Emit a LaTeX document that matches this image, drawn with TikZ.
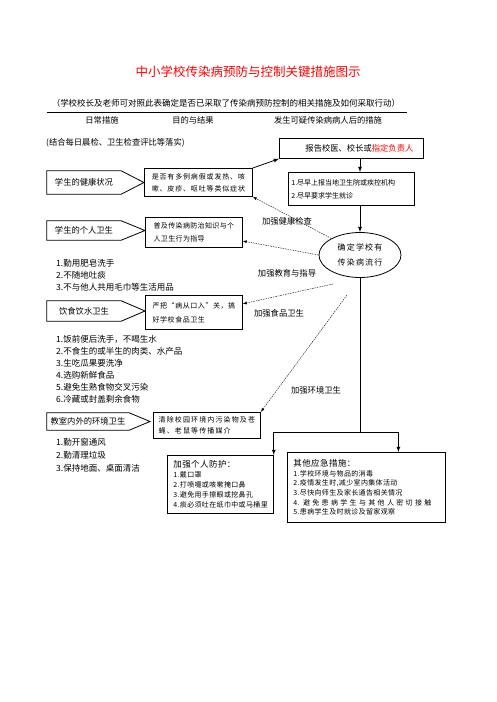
\documentclass[tikz,border=0pt]{standalone}
\usepackage{fontspec}
\setmainfont{Noto Sans CJK SC}
\usepackage{tikz}
\usetikzlibrary{calc,shapes.geometric}
\newcommand{\ecart}[1]{\addfontfeature{LetterSpace=#1}}
\tikzstyle{cadre} = [rectangle, draw=black, line width=0.8pt, inner sep=3pt, align=left, font=\fontsize{7}{13}\selectfont]
\tikzstyle{fleche} = [rectangle, minimum width=74pt, minimum height=23pt, inner sep=0pt, font=\fontsize{8.3}{10}\selectfont]
\tikzstyle{texte} = [inner sep=0pt, font=\fontsize{8.3}{10}\selectfont]
\tikzstyle{liste} = [anchor=west, inner sep=0pt, font=\fontsize{8.5}{10}\selectfont]
\tikzstyle{pointille} = [->, dash pattern=on 1.5pt off 1pt, line width=0.4pt]

\begin{document}
\begin{tikzpicture}[x=1pt, y=-1pt, >=latex]

        \useasboundingbox (0,0) rectangle (496,702);

        % titre et en-tete
        \node (titre) [text=red, font=\fontsize{12.5}{15}\selectfont] at (248,72) {中小学校传染病预防与控制关键措施图示};
        \node (soustitre) [texte, font=\fontsize{8.5}{10}\selectfont] at (226,103) {（学校校长及老师可对照此表确定是否已采取了传染病预防控制的相关措施及如何采取行动）};
        \draw[line width=0.8pt] (47,112) -- (407,112);
        \node (col1) [texte] at (102,120) {日常措施};
        \node (col2) [texte] at (193,120) {目的与结果};
        \node (col3) [texte] at (328,120) {发生可疑传染病病人后的措施};
        \node (note) [texte, anchor=west] at (46,143) {(结合每日晨检、卫生检查评比等落实)};

        % sante
        \node (sante) [fleche] at (84,182.5) {学生的健康状况};
        \node (symptomes) [cadre, anchor=north west, minimum width=108pt, minimum height=28pt, font=\fontsize{7}{12}\selectfont\ecart{12}] at (144,168) {是否有多例病假或发热、咳\\嗽、皮疹、呕吐等类似症状};
        \draw[line width=0.8pt] (sante.north west) -- (sante.north east) -- (symptomes.west |- sante.east) -- (sante.south east) -- (sante.south west) -- cycle;

        % hygiene personnelle
        \node (hygiene) [fleche, minimum height=19pt] at (84,230.5) {学生的个人卫生};
        \node (conseil) [cadre, anchor=north west, minimum width=97pt, minimum height=30pt, font=\fontsize{7}{13}\selectfont\ecart{5}] at (145,217) {普及传染病防治知识与个\\人卫生行为指导};
        \draw[line width=0.8pt] (hygiene.north west) -- (hygiene.north east) -- (conseil.west |- hygiene.east) -- (hygiene.south east) -- (hygiene.south west) -- cycle;
        \node (h1) [liste] at (56,263) {1.勤用肥皂洗手};
        \node (h2) [liste] at (56,275) {2.不随地吐痰};
        \node (h3) [liste] at (56,287) {3.不与他人共用毛巾等生活用品};

        % alimentation
        \node (repas) [fleche, minimum height=20pt] at (84,311) {饮食饮水卫生};
        \node (aliment) [cadre, anchor=north west, minimum width=97pt, minimum height=34pt, font=\fontsize{7}{14}\selectfont\ecart{8}] at (145,295) {严把“病从口入”关，搞\\好学校食品卫生};
        \draw[line width=0.8pt] (repas.north west) -- (repas.north east) -- (aliment.west |- repas.east) -- (repas.south east) -- (repas.south west) -- cycle;
        \node (a1) [liste] at (56,339) {1.饭前便后洗手，不喝生水};
        \node (a2) [liste] at (56,351) {2.不食生的或半生的肉类、水产品};
        \node (a3) [liste] at (56,363) {3.生吃瓜果要洗净};
        \node (a4) [liste] at (56,375) {4.选购新鲜食品};
        \node (a5) [liste] at (56,387) {5.避免生熟食物交叉污染};
        \node (a6) [liste] at (56,399) {6.冷藏或封盖剩余食物};

        % environnement
        \node (environ) [fleche, minimum width=82pt, minimum height=17pt] at (88,421.5) {教室内外的环境卫生};
        \node (nettoyage) [cadre, anchor=north west, minimum width=107pt, minimum height=26pt, font=\fontsize{7}{10.5}\selectfont\ecart{16}] at (153,412) {清除校园环境内污染物及苍\\蝇、老鼠等传播媒介};
        \draw[line width=0.8pt] (environ.north west) -- (environ.north east) -- ($(nettoyage.west |- environ.east)+(-3,0)$) -- (environ.south east) -- (environ.south west) -- cycle;
        \node (e1) [liste] at (56,442) {1.勤开窗通风};
        \node (e2) [liste] at (56,455) {2.勤清理垃圾};
        \node (e3) [liste] at (56,468) {3.保持地面、桌面清洁};

        % cote droit
        \node (rapport) [cadre, anchor=north west, minimum width=144pt, minimum height=20pt, font=\fontsize{8.3}{10}\selectfont] at (279,138) {\hspace*{16pt}报告校医、校长或\textcolor{red}{指定负责人}};
        \node (mesures) [cadre, anchor=north west, text width=120pt, minimum height=33pt] at (288,172) {1.尽早上报当地卫生院或疾控机构\\2.尽早要求学生就诊};
        \node (foyer) [ellipse, draw, line width=0.8pt, minimum width=82pt, minimum height=45pt, inner sep=0pt, align=center, font=\fontsize{8}{15}\selectfont\ecart{15}] at (360,255) {确定学校有\\传染病流行};

        \node (protection) [cadre, anchor=north west, text width=94pt, inner xsep=6pt, minimum height=58pt, font=\fontsize{7}{10}\selectfont\ecart{5}] at (167,455) {{\fontsize{8.5}{10}\selectfont 加强个人防护：}\\1.戴口罩\\2.打喷嚏或咳嗽掩口鼻\\3.避免用手擦眼或挖鼻孔\\4.痰必须吐在纸巾中或马桶里};
        \node (autres) [cadre, anchor=north west, text width=146pt, inner xsep=6pt, minimum height=70pt, font=\fontsize{7}{9.6}\selectfont\ecart{5}] at (287,452) {{\fontsize{8.5}{10}\selectfont 其他应急措施：}\\1.学校环境与物品的消毒\\2.疫情发生时,减少室内集体活动\\3.尽快向师生及家长通告相关情况\\\makebox[144pt][s]{4. 避 免 患 病 学 生 与 其 他 人 密 切 接 触}\\5.患病学生及时就诊及留家观察};

        % liaisons
        \coordinate (fourche) at (foyer.south |- 0,432);
        \coordinate (d3) at (333,284);
        \coordinate (d4) at (347,295);

        \draw[->, line width=0.8pt] (symptomes.north east) -- (rapport.south west);
        \draw[->, line width=0.8pt] (rapport.south -| foyer.north) -- (mesures.north -| foyer.north);
        \draw[->, line width=0.8pt] (mesures.south -| foyer.north) -- (foyer.north);
        \draw[line width=0.8pt] (foyer.south) -- (fourche);
        \draw[->, line width=0.8pt] (fourche) -| (protection.north east);
        \draw[->, line width=0.8pt] (fourche) -| ($(autres.north)+(32,0)$);

        \draw[pointille] (foyer.150) -- (symptomes.south east);
        \draw[pointille] (foyer.west) -- (conseil.-10);
        \draw[pointille] (d3) -- (aliment.10);
        \draw[pointille] (d4) -- (nettoyage.north east);

        \node (l1) [texte] at (287,221) {加强健康检查};
        \node (l2) [texte] at (287,273) {加强教育与指导};
        \node (l3) [texte] at (279,313) {加强食品卫生};
        \node (l4) [texte] at (316,390) {加强环境卫生};

    \end{tikzpicture}
\end{document}
